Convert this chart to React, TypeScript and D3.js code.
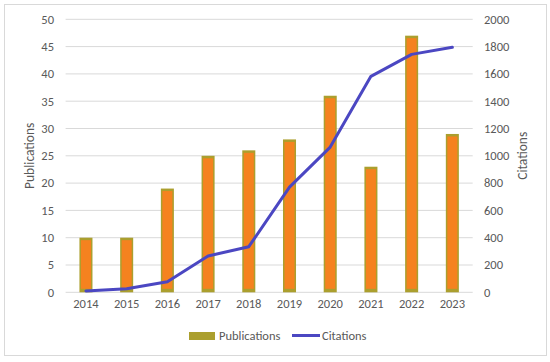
import React from 'react';
import * as d3 from 'd3';

const years = ['2014', '2015', '2016', '2017', '2018', '2019', '2020', '2021', '2022', '2023'];
const publications = [10, 10, 19, 25, 26, 28, 36, 23, 47, 29];
const citations = [10, 26, 78, 266, 334, 771, 1064, 1582, 1743, 1795];
const leftTicks = [0, 5, 10, 15, 20, 25, 30, 35, 40, 45, 50];
const rightTicks = [0, 200, 400, 600, 800, 1000, 1200, 1400, 1600, 1800, 2000];

const W = 550;
const H = 362;
const plot = { left: 65.6, right: 472.7, top: 19.3, bottom: 292.3 };
const font = "Calibri, Carlito, 'Liberation Sans', sans-serif";
const textColor = '#595959';

const App = () => {
  const x = d3.scaleBand<string>().domain(years).range([plot.left, plot.right]).paddingInner(0.68).paddingOuter(0.34);
  const yL = d3.scaleLinear().domain([0, 50]).range([plot.bottom, plot.top]);
  const yR = d3.scaleLinear().domain([0, 2000]).range([plot.bottom, plot.top]);
  const line = d3
    .line<number>()
    .x((d, i) => (x(years[i]) as number) + x.bandwidth() / 2)
    .y((d) => yR(d));

  return (
    <svg width={W} height={H} style={{ position: 'absolute', left: 0, top: 0, fontFamily: font }}>
      <rect x={0} y={0} width={W} height={H} fill="#fff" />
      <rect x={4.5} y={4.5} width={542} height={351} fill="none" stroke="#d9d9d9" />
      {leftTicks.map((t) => (
        <line key={t} x1={plot.left} x2={plot.right} y1={yL(t)} y2={yL(t)} stroke="#d9d9d9" strokeWidth={1} />
      ))}
      {publications.map((v, i) => {
        const bx = x(years[i]) as number;
        const bw = x.bandwidth();
        const top = yL(v);
        const h = plot.bottom - top;
        return (
          <g key={years[i]}>
            <rect x={bx} y={top} width={bw} height={h} fill="#ab9f2e" />
            <rect x={bx + 1.5} y={top + 2.5} width={bw - 3} height={Math.max(0, h - 6)} fill="#f5821f" />
          </g>
        );
      })}
      <path d={line(citations) || ''} fill="none" stroke="#4b47c2" strokeWidth={3} strokeLinejoin="round" strokeLinecap="round" />
      {leftTicks.map((t) => (
        <text key={t} x={54} y={yL(t)} dy="0.35em" textAnchor="end" fontSize={12.5} fill={textColor}>
          {t}
        </text>
      ))}
      {rightTicks.map((t) => (
        <text key={t} x={484} y={yR(t)} dy="0.35em" textAnchor="start" fontSize={12.5} fill={textColor}>
          {t}
        </text>
      ))}
      {years.map((yr) => (
        <text key={yr} x={(x(yr) as number) + x.bandwidth() / 2} y={308} textAnchor="middle" fontSize={12.5} fill={textColor}>
          {yr}
        </text>
      ))}
      <text transform={`translate(34,${(plot.top + plot.bottom) / 2}) rotate(-90)`} textAnchor="middle" fontSize={13.5} fill={textColor}>
        Publications
      </text>
      <text transform={`translate(527,${(plot.top + plot.bottom) / 2}) rotate(-90)`} textAnchor="middle" fontSize={13.5} fill={textColor}>
        Citations
      </text>
      <rect x={189} y={332} width={26} height={8} fill="#ab9f2e" />
      <text x={219} y={336} dy="0.35em" fontSize={12.5} fill={textColor}>
        Publications
      </text>
      <line x1={292} x2={320} y1={335.5} y2={335.5} stroke="#4b47c2" strokeWidth={3} />
      <text x={322} y={336} dy="0.35em" fontSize={12.5} fill={textColor}>
        Citations
      </text>
    </svg>
  );
};

export default App;
